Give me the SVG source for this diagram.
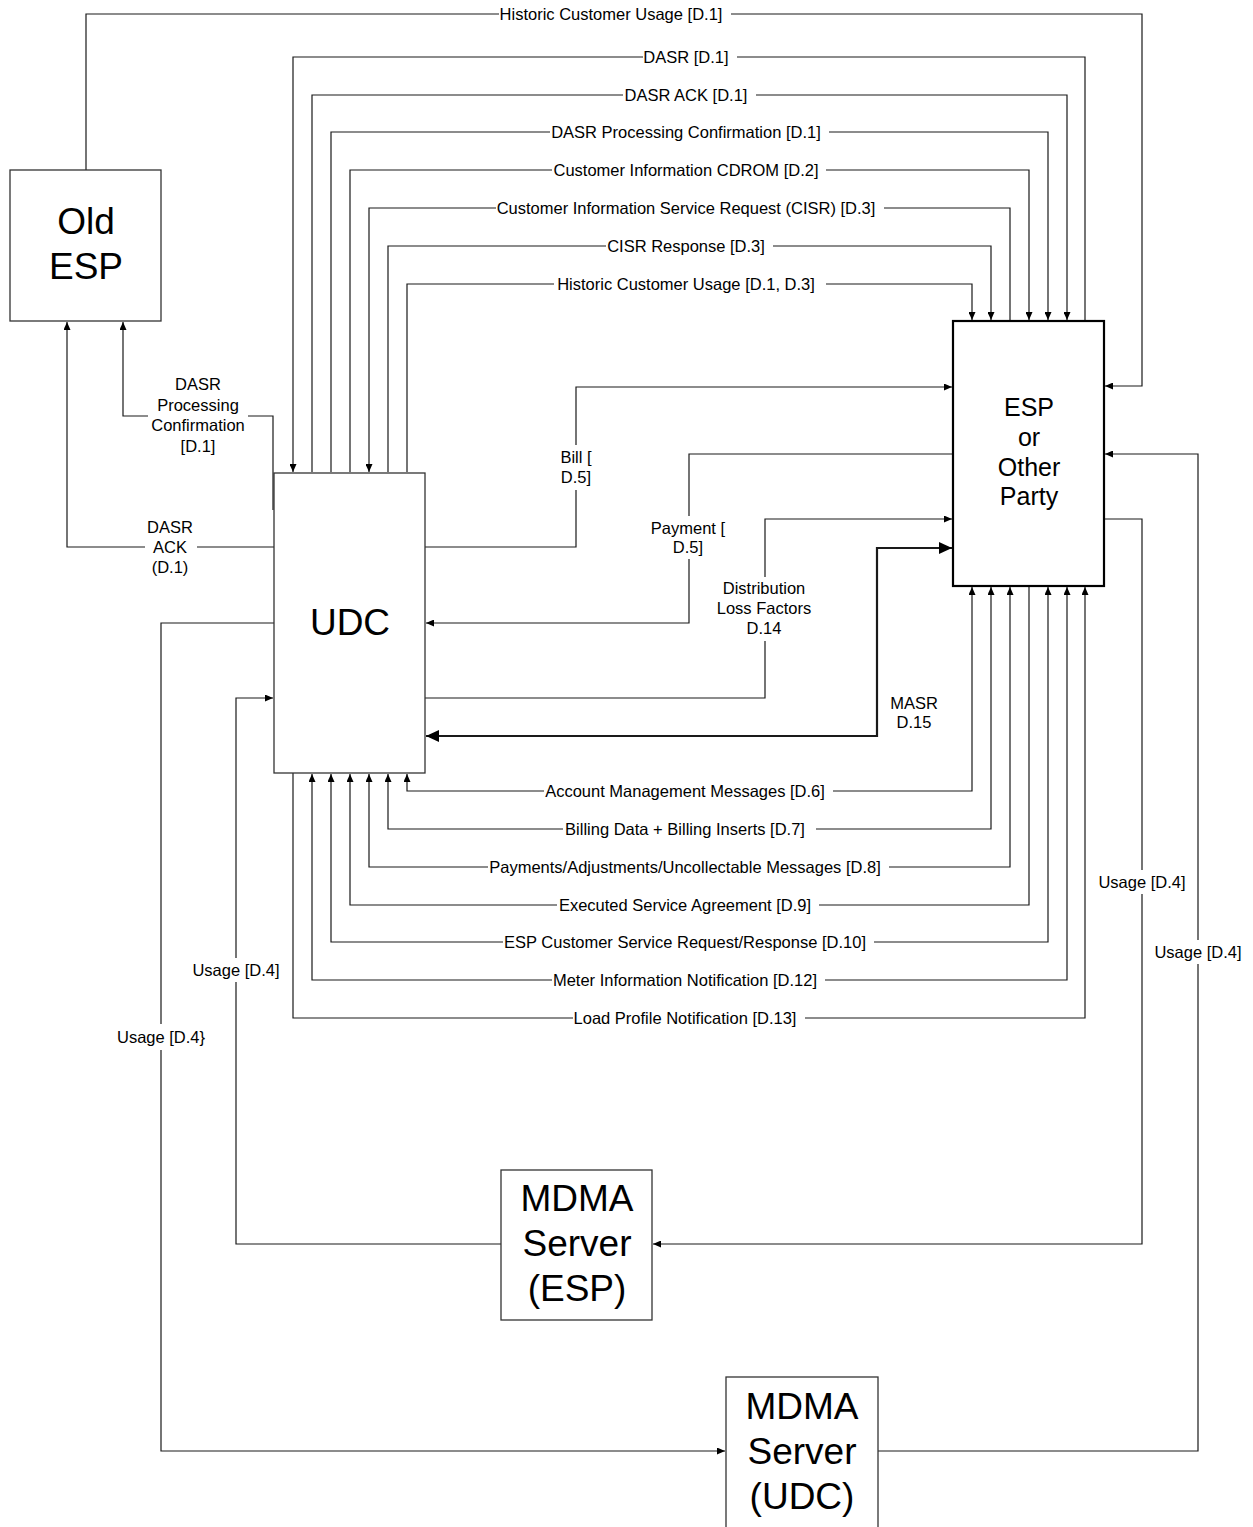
<svg xmlns="http://www.w3.org/2000/svg" width="1253" height="1527" viewBox="0 0 1253 1527">
<style>
.ln{fill:none;stroke:#1a1a1a;stroke-width:1.2}
.thick{stroke-width:2.2}
.box{fill:#fff;stroke:#333;stroke-width:1.3}
.esp{stroke:#000;stroke-width:2.2}
.t{font-family:"Liberation Sans",Arial,sans-serif;font-size:16.5px;fill:#000;text-anchor:middle}
.big{font-size:37px}
.mid{font-size:25px}
.bg{fill:#fff}
</style>
<defs>
<marker id="a" viewBox="0 0 10 10" refX="10" refY="5" markerWidth="8" markerHeight="7" markerUnits="userSpaceOnUse" orient="auto-start-reverse" preserveAspectRatio="none"><path d="M0,0L10,5L0,10z" fill="#000"/></marker>
<marker id="A" viewBox="0 0 10 10" refX="10" refY="5" markerWidth="13" markerHeight="12" markerUnits="userSpaceOnUse" orient="auto-start-reverse" preserveAspectRatio="none"><path d="M0,0L10,5L0,10z" fill="#000"/></marker>
</defs>
<rect width="1253" height="1527" fill="#fff"/>
<g id="connectors">
<!-- top -->
<g><path class="ln" d="M86,170V14H1142V386H1105" marker-end="url(#a)"/><rect class="bg" x="499" y="5" width="232" height="18"/><text class="t" x="611" y="20">Historic Customer Usage [D.1]</text></g>
<g><path class="ln" d="M1085,321V57H293V472" marker-end="url(#a)"/><rect class="bg" x="643" y="48" width="94" height="18"/><text class="t" x="686" y="63">DASR [D.1]</text></g>
<g><path class="ln" d="M312,472V95H1067V320" marker-end="url(#a)"/><rect class="bg" x="623" y="86" width="133" height="18"/><text class="t" x="686" y="101">DASR ACK [D.1]</text></g>
<g><path class="ln" d="M331,472V132H1048V320" marker-end="url(#a)"/><rect class="bg" x="550" y="123" width="279" height="18"/><text class="t" x="686" y="138">DASR Processing Confirmation [D.1]</text></g>
<g><path class="ln" d="M350,472V170H1029V320" marker-end="url(#a)"/><rect class="bg" x="552" y="161" width="274" height="18"/><text class="t" x="686" y="176">Customer Information CDROM [D.2]</text></g>
<g><path class="ln" d="M1010,321V208H369V472" marker-end="url(#a)"/><rect class="bg" x="496" y="199" width="388" height="18"/><text class="t" x="686" y="214">Customer Information Service Request (CISR) [D.3]</text></g>
<g><path class="ln" d="M388,472V246H991V320" marker-end="url(#a)"/><rect class="bg" x="606" y="237" width="167" height="18"/><text class="t" x="686" y="252">CISR Response [D.3]</text></g>
<g><path class="ln" d="M407,472V284H972V320" marker-end="url(#a)"/><rect class="bg" x="554" y="275" width="272" height="18"/><text class="t" x="686" y="290">Historic Customer Usage [D.1, D.3]</text></g>
<!-- old ESP -->
<g><path class="ln" d="M273,510V416H123V322" marker-end="url(#a)"/><rect class="bg" x="148" y="376" width="100" height="82"/><text class="t" x="198" y="390">DASR</text><text class="t" x="198" y="411">Processing</text><text class="t" x="198" y="431">Confirmation</text><text class="t" x="198" y="452">[D.1]</text></g>
<g><path class="ln" d="M274,547H67V322" marker-end="url(#a)"/><rect class="bg" x="145" y="518" width="52" height="60"/><text class="t" x="170" y="533">DASR</text><text class="t" x="170" y="553">ACK</text><text class="t" x="170" y="573">(D.1)</text></g>
<!-- middle -->
<g><path class="ln" d="M425,547H576V387H952" marker-end="url(#a)"/><rect class="bg" x="556" y="445" width="40" height="45"/><text class="t" x="576" y="463">Bill [</text><text class="t" x="576" y="483">D.5]</text></g>
<g><path class="ln" d="M953,454H689V623H426" marker-end="url(#a)"/><rect class="bg" x="648" y="516" width="82" height="43"/><text class="t" x="688" y="534">Payment [</text><text class="t" x="688" y="553">D.5]</text></g>
<g><path class="ln" d="M425,698H765V519H952" marker-end="url(#a)"/><rect class="bg" x="712" y="577" width="106" height="64"/><text class="t" x="764" y="594">Distribution</text><text class="t" x="764" y="614">Loss Factors</text><text class="t" x="764" y="634">D.14</text></g>
<g><path class="ln thick" d="M426,736H877V548H952" marker-start="url(#A)" marker-end="url(#A)"/><text class="t" x="914" y="709">MASR</text><text class="t" x="914" y="728">D.15</text></g>
<!-- bottom -->
<g><path class="ln" d="M407,774V791H972V587" marker-start="url(#a)" marker-end="url(#a)"/><rect class="bg" x="544" y="782" width="289" height="18"/><text class="t" x="685" y="797">Account Management Messages [D.6]</text></g>
<g><path class="ln" d="M388,774V829H991V587" marker-start="url(#a)" marker-end="url(#a)"/><rect class="bg" x="563" y="820" width="253" height="18"/><text class="t" x="685" y="835">Billing Data + Billing Inserts [D.7]</text></g>
<g><path class="ln" d="M369,774V867H1010V587" marker-start="url(#a)" marker-end="url(#a)"/><rect class="bg" x="488" y="858" width="401" height="18"/><text class="t" x="685" y="873">Payments/Adjustments/Uncollectable Messages [D.8]</text></g>
<g><path class="ln" d="M350,774V905H1029V586" marker-start="url(#a)"/><rect class="bg" x="557" y="896" width="262" height="18"/><text class="t" x="685" y="911">Executed Service Agreement [D.9]</text></g>
<g><path class="ln" d="M331,774V942H1048V587" marker-start="url(#a)" marker-end="url(#a)"/><rect class="bg" x="503" y="933" width="371" height="18"/><text class="t" x="685" y="948">ESP Customer Service Request/Response [D.10]</text></g>
<g><path class="ln" d="M312,774V980H1067V587" marker-start="url(#a)" marker-end="url(#a)"/><rect class="bg" x="552" y="971" width="273" height="18"/><text class="t" x="685" y="986">Meter Information Notification [D.12]</text></g>
<g><path class="ln" d="M293,773V1018H1085V587" marker-end="url(#a)"/><rect class="bg" x="573" y="1009" width="232" height="18"/><text class="t" x="685" y="1024">Load Profile Notification [D.13]</text></g>
<!-- usage -->
<g><path class="ln" d="M274,623H161V1451H725" marker-end="url(#a)"/><rect class="bg" x="115" y="1024" width="92" height="26"/><text class="t" x="161" y="1043">Usage [D.4}</text></g>
<g><path class="ln" d="M501,1244H236V698H273" marker-end="url(#a)"/><rect class="bg" x="190" y="958" width="92" height="24"/><text class="t" x="236" y="976">Usage [D.4]</text></g>
<g><path class="ln" d="M1105,519H1142V1244H653" marker-end="url(#a)"/><rect class="bg" x="1095" y="870" width="93" height="24"/><text class="t" x="1142" y="888">Usage [D.4]</text></g>
<g><path class="ln" d="M878,1451H1198V454H1105" marker-end="url(#a)"/><rect class="bg" x="1153" y="940" width="91" height="24"/><text class="t" x="1198" y="958">Usage [D.4]</text></g>
</g>
<g id="old-esp"><rect class="box" x="10" y="170" width="151" height="151"/><text class="t big" x="86" y="234">Old</text><text class="t big" x="86" y="279">ESP</text></g>
<g id="udc"><rect class="box" x="274" y="473" width="151" height="300"/><text class="t big" x="350" y="635">UDC</text></g>
<g id="esp"><rect class="box esp" x="953" y="321" width="151" height="265"/><text class="t mid" x="1029" y="416">ESP</text><text class="t mid" x="1029" y="446">or</text><text class="t mid" x="1029" y="476">Other</text><text class="t mid" x="1029" y="505">Party</text></g>
<g id="mdma-esp"><rect class="box" x="501" y="1170" width="151" height="150"/><text class="t big" x="577" y="1211">MDMA</text><text class="t big" x="577" y="1256">Server</text><text class="t big" x="577" y="1301">(ESP)</text></g>
<g id="mdma-udc"><rect class="box" x="726" y="1377" width="152" height="170"/><text class="t big" x="802" y="1419">MDMA</text><text class="t big" x="802" y="1464">Server</text><text class="t big" x="802" y="1509">(UDC)</text></g>
</svg>
